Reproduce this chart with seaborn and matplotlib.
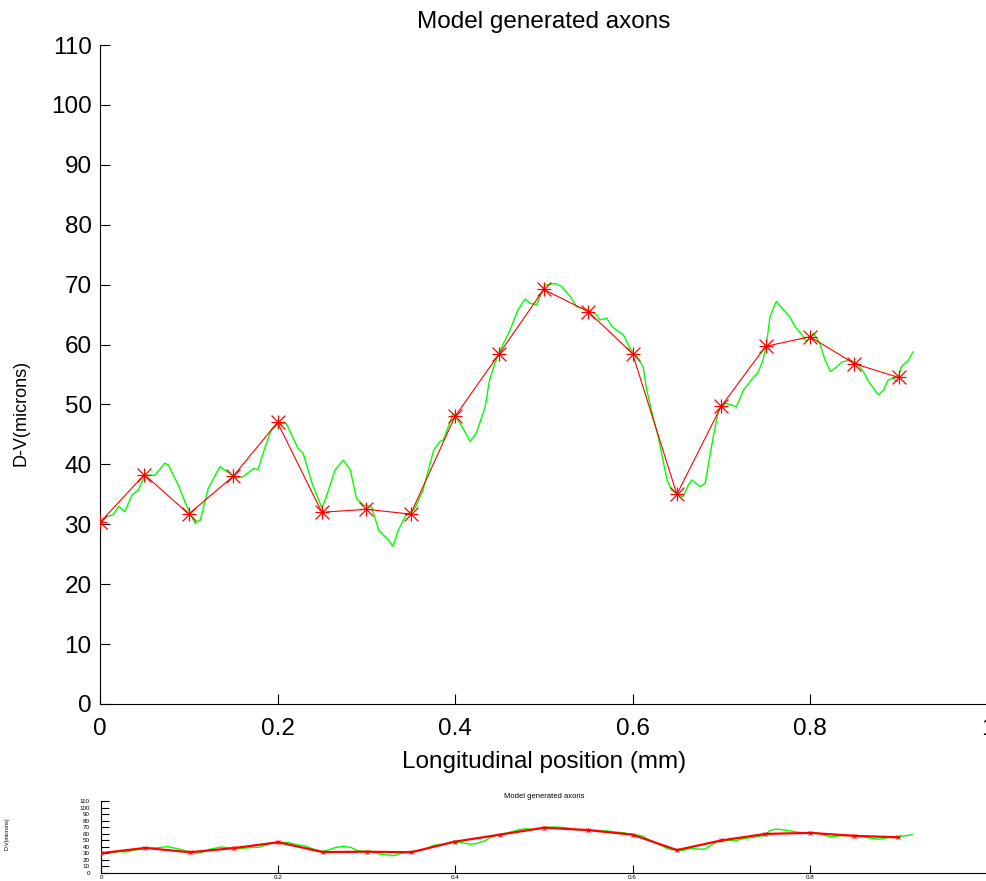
import numpy as np
import pandas as pd
import matplotlib
matplotlib.use("Agg")
import matplotlib.pyplot as plt
import seaborn as sns

# ---------------- data ----------------
sample_x = [0.0, 0.05, 0.1, 0.15, 0.2, 0.25, 0.3, 0.35, 0.4, 0.45,
            0.5, 0.55, 0.6, 0.65, 0.7, 0.75, 0.8, 0.85, 0.9]
sample_y = [30.3, 38.3, 31.7, 38.0, 47.0, 32.0, 32.5, 31.7, 48.0, 58.5,
            69.2, 65.5, 58.5, 35.0, 49.7, 59.7, 61.3, 56.8, 54.5]

trace_x = [0.002, 0.0075, 0.015, 0.021, 0.028, 0.036, 0.043, 0.051, 0.062, 0.073,
           0.077, 0.088, 0.098, 0.107, 0.113, 0.122, 0.135, 0.143, 0.154, 0.161,
           0.173, 0.178, 0.186, 0.193, 0.201, 0.210, 0.223, 0.229, 0.239, 0.250,
           0.255, 0.265, 0.274, 0.282, 0.289, 0.297, 0.306, 0.314, 0.325, 0.330,
           0.336, 0.344, 0.355, 0.364, 0.376, 0.383, 0.387, 0.398, 0.408, 0.417,
           0.424, 0.434, 0.439, 0.445, 0.453, 0.462, 0.468, 0.471, 0.479, 0.4845,
           0.492, 0.501, 0.513, 0.520, 0.530, 0.537, 0.550, 0.560, 0.563, 0.571,
           0.577, 0.584, 0.590, 0.597, 0.605, 0.612, 0.616, 0.624, 0.629, 0.635,
           0.639, 0.644, 0.652, 0.657, 0.663, 0.667, 0.676, 0.682, 0.687, 0.691,
           0.697, 0.704, 0.712, 0.717, 0.725, 0.734, 0.742, 0.747, 0.751, 0.755,
           0.762, 0.770, 0.777, 0.783, 0.791, 0.796, 0.804, 0.811, 0.817, 0.823,
           0.828, 0.836, 0.845, 0.853, 0.860, 0.866, 0.873, 0.877, 0.883, 0.888,
           0.894, 0.898, 0.903, 0.911, 0.916]
trace_y = [30.4, 31.3, 31.6, 33.0, 32.1, 34.9, 35.7, 38.2, 38.2, 40.2,
           39.9, 36.6, 32.9, 30.2, 30.7, 36.0, 39.6, 38.8, 37.7, 37.9,
           39.3, 39.1, 42.9, 45.7, 46.8, 46.8, 42.7, 41.8, 36.8, 32.7,
           34.6, 39.1, 40.7, 39.1, 34.3, 33.2, 32.9, 29.0, 27.4, 26.3,
           29.0, 31.3, 32.7, 35.7, 42.4, 43.8, 44.1, 48.5, 46.3, 43.8,
           45.2, 49.6, 54.1, 56.9, 59.7, 62.4, 64.7, 65.8, 67.6, 66.9,
           66.6, 69.9, 70.2, 69.7, 68.0, 66.3, 65.8, 64.9, 64.1, 64.4,
           63.0, 62.2, 61.6, 59.4, 58.0, 56.3, 52.4, 47.4, 44.6, 40.2,
           37.4, 35.7, 34.9, 34.6, 36.6, 37.4, 36.3, 36.8, 41.3, 44.6,
           49.1, 50.2, 49.9, 49.6, 52.4, 54.1, 55.5, 57.4, 60.2, 64.7,
           67.2, 65.8, 64.7, 63.0, 61.6, 60.5, 61.9, 60.2, 57.4, 55.5,
           56.0, 57.1, 57.4, 56.9, 55.5, 53.8, 52.4, 51.6, 52.4, 54.1,
           54.4, 53.8, 56.3, 57.4, 58.8]

x_ticks = [0, 0.2, 0.4, 0.6, 0.8, 1.0]
x_tick_labels = ["0", "0.2", "0.4", "0.6", "0.8", "1"]
y_ticks = [0, 10, 20, 30, 40, 50, 60, 70, 80, 90, 100, 110]

title_text = "Model generated axons"
xlabel_text = "Longitudinal position (mm)"
ylabel_text = "D-V(microns)"

# ---------------- style ----------------
sns.set_theme(style="white")
plt.rcParams["font.family"] = ["Liberation Sans", "DejaVu Sans"]

GREEN = "#00ff00"
RED = "#ff0000"

df_trace = pd.DataFrame({"x": trace_x, "y": trace_y})
df_samp = pd.DataFrame({"x": sample_x, "y": sample_y})

fig = plt.figure(figsize=(9.87, 8.81), dpi=100)
W, H = 987.0, 881.0


def draw(ax, fs, red_lw, mk_s, mk_lw, tick_len, xpad, ypad, title_pad, title_fs):
    sns.lineplot(data=df_trace, x="x", y="y", ax=ax, color=GREEN, lw=1.0,
                 sort=False, estimator=None, legend=False)
    sns.lineplot(data=df_samp, x="x", y="y", ax=ax, color=RED, lw=red_lw,
                 sort=False, estimator=None, legend=False)
    for m in ["+", "x"]:
        sns.scatterplot(data=df_samp, x="x", y="y", ax=ax, marker=m, s=mk_s,
                        color=RED, linewidth=mk_lw, legend=False, zorder=5)
    ax.set_xlim(0, 1)
    ax.set_ylim(0, 110)
    ax.set_xticks(x_ticks)
    ax.set_xticklabels(x_tick_labels)
    ax.set_yticks(y_ticks)
    ax.set_yticklabels([str(v) for v in y_ticks])
    for s in ["top", "right"]:
        ax.spines[s].set_visible(False)
    for s in ["left", "bottom"]:
        ax.spines[s].set_color("black")
        ax.spines[s].set_linewidth(0.8)
    ax.tick_params(axis="both", direction="in", length=tick_len, width=0.8,
                   colors="black", labelsize=fs, left=True, bottom=True)
    ax.tick_params(axis="x", pad=xpad)
    ax.tick_params(axis="y", pad=ypad)
    ax.set_title(title_text, fontsize=title_fs, pad=title_pad, color="black")
    ax.grid(False)
    ax.set_facecolor("white")


# main axes
ax = fig.add_axes([100 / W, (H - 704) / H, 887.5 / W, 659 / H])
draw(ax, fs=17.5, red_lw=0.8, mk_s=100, mk_lw=0.9, tick_len=7,
     xpad=10, ypad=6, title_pad=12, title_fs=17.5)
ax.set_xlabel(xlabel_text, fontsize=17.5, color="black")
ax.xaxis.set_label_coords(0.5, -0.071)
ax.set_ylabel(ylabel_text, fontsize=13, color="black")
ax.yaxis.set_label_coords(-0.079, 0.442)

# miniature copy at the bottom
ax2 = fig.add_axes([101 / W, (H - 873) / H, 886 / W, 72 / H])
draw(ax2, fs=4.5, red_lw=1.6, mk_s=9, mk_lw=0.6, tick_len=6,
     xpad=1.5, ypad=8, title_pad=2, title_fs=5.5)
ax2.set_xlabel(xlabel_text, fontsize=6, color="black", labelpad=0.5)
ax2.set_ylabel(ylabel_text, fontsize=4, color="black")
ax2.yaxis.set_label_coords(-0.103, 0.55)

fig.savefig("out.png", dpi=100, facecolor="white")
